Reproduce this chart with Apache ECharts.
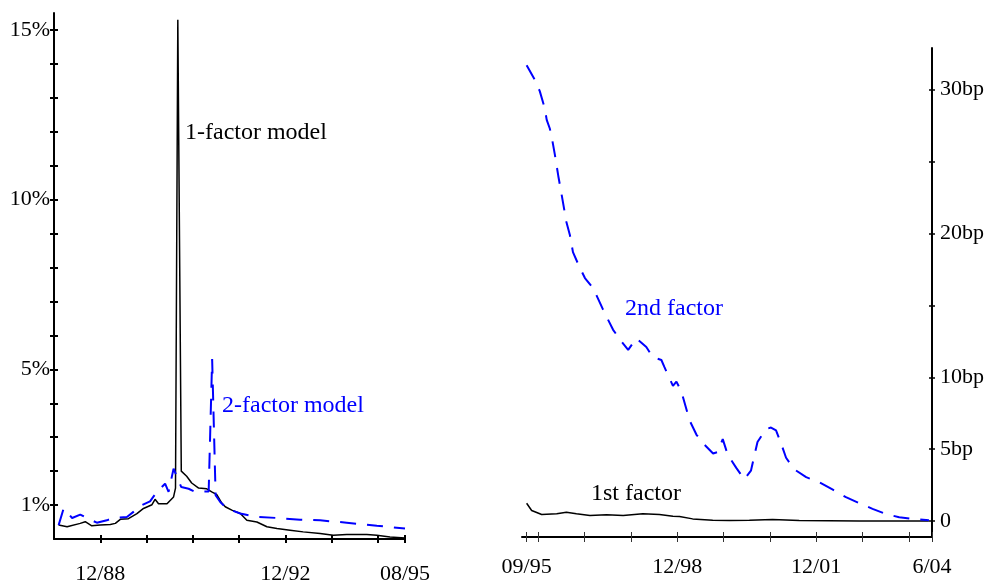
<!DOCTYPE html>
<html>
<head>
<meta charset="utf-8">
<script src="https://cdn.jsdelivr.net/npm/echarts@6/dist/echarts.min.js"></script>
<style>
  html, body { margin: 0; padding: 0; background: #ffffff; }
  #chart { width: 990px; height: 585px; }
</style>
</head>
<body>
<div id="chart"></div>
<script>
// ---- Left panel: pricing error (%) by month, month 0 = 12/87 ----
const oneFactorMonths = [1.2, 3.4, 6.8, 8.1, 9.8, 12, 14.6, 15.9, 17.2, 19.3, 21.5, 23.2, 25.4, 26.2, 27.1, 29.3, 31, 31.5, 32.1, 33.0, 34.4, 35.7, 37.5, 39.6, 40.9, 42.2, 43.5, 44.4, 46.1, 48.3, 50, 52.6, 55.2, 57.8, 61.2, 64.6, 69, 72.4, 75.9, 81.1, 83.7, 87.1, 91];
const oneFactorValues = [0.41, 0.36, 0.46, 0.51, 0.39, 0.41, 0.43, 0.46, 0.58, 0.6, 0.75, 0.9, 1.01, 1.17, 1.04, 1.04, 1.24, 1.5, 15.3, 2.0, 1.85, 1.65, 1.5, 1.48, 1.39, 1.31, 1.06, 0.95, 0.85, 0.75, 0.55, 0.5, 0.36, 0.31, 0.26, 0.21, 0.16, 0.11, 0.13, 0.13, 0.11, 0.06, 0.03];

const twoFactorMonths = [1.2, 2.5, 4.7, 6.8, 8.5, 11.1, 13.7, 15.4, 18.9, 20.6, 21.9, 24.9, 26.7, 28.8, 29.7, 31, 33, 34.9, 36.6, 40.1, 41, 41.9, 43.1, 44.8, 48.3, 52.6, 57.8, 63.8, 69, 75.9, 83.7, 91];
const twoFactorValues = [0.41, 0.9, 0.62, 0.72, 0.62, 0.48, 0.55, 0.62, 0.65, 0.8, 0.95, 1.11, 1.39, 1.63, 1.39, 2.07, 1.53, 1.48, 1.39, 1.4, 5.3, 1.29, 1.09, 0.9, 0.75, 0.65, 0.62, 0.57, 0.55, 0.48, 0.39, 0.31];

const leftTickMonths = [12, 24, 36, 48, 60, 72, 84, 91];
const leftLabelMonths = [12, 60, 91];
const leftLabelTexts = ['12/88', '12/92', '08/95'];
const leftPctTicks = [1, 2, 3, 4, 5, 6, 7, 8, 9, 10, 11, 12, 13, 14, 15];
const leftPctLabels = [1, 5, 10, 15];

// ---- Right panel: factor volatility (bp) by month, month 0 = 09/95 ----
const secondFactorMonths = [0, 2.1, 3.4, 4.7, 5.2, 6.0, 6.5, 7.3, 8.2, 9.0, 10.3, 11.2, 12.0, 13.3, 15.1, 17.2, 18.1, 19.8, 22.4, 24.5, 26.3, 28.4, 31, 32.7, 34.9, 35.7, 37.9, 38.8, 40.1, 42.2, 44, 46.1, 48.3, 49.5, 50.8, 52.1, 54.3, 56.4, 58.1, 59.8, 62, 63.3, 64.6, 65.9, 67.2, 69.3, 72.4, 75.8, 79.2, 82.7, 86.1, 89.6, 93, 96.5, 99.9, 104.2];
const secondFactorValues = [31.7, 30.7, 29.9, 28.7, 27.9, 27.3, 26.7, 25.5, 24.0, 22.8, 20.8, 19.9, 18.7, 17.9, 16.9, 16.2, 15.7, 14.7, 13.3, 12.5, 11.9, 12.7, 12.1, 11.4, 11.2, 10.7, 9.4, 9.7, 9.0, 7.0, 6.0, 5.3, 4.7, 4.8, 5.7, 4.6, 3.7, 2.9, 3.5, 5.5, 6.4, 6.5, 6.3, 5.4, 4.4, 3.6, 3.05, 2.7, 2.2, 1.66, 1.25, 0.85, 0.5, 0.26, 0.15, 0.05];

const firstFactorMonths = [0, 1.3, 3.9, 7.8, 10.3, 12.9, 16.4, 20.7, 25, 30.1, 34.4, 37.9, 39.6, 43, 48.2, 52.5, 57.7, 63.7, 70.6, 86.1, 104.2];
const firstFactorValues = [1.24, 0.73, 0.45, 0.5, 0.61, 0.5, 0.38, 0.43, 0.38, 0.5, 0.45, 0.33, 0.31, 0.15, 0.05, 0.03, 0.05, 0.1, 0.03, 0.01, 0.01];

const rightTickMonths = [0, 3, 15, 27, 39, 51, 63, 75, 87, 99, 105];
const rightLabelMonths = [0, 39, 75, 105];
const rightLabelTexts = ['09/95', '12/98', '12/01', '6/04'];
const rightBpTicks = [0, 5, 10, 15, 20, 25, 30];
const rightBpLabels = [0, 5, 10, 20, 30];

const pairs = (xs, ys) => xs.map((x, i) => [x, ys[i]]);
const FONT = 'Liberation Serif';
const BLUE = '#0000ff';
const DASH = [16, 11];

function labelFor(months, texts) {
  return v => {
    const i = months.findIndex(m => Math.abs(m - v) < 1e-6);
    return i >= 0 ? texts[i] : '';
  };
}

// Main axis (line, outer ticks, labels) + companion axis (inner ticks) gives crossing tick marks.
function axisPair(gridIndex, min, max, position, ticks, labelVals, fmt, tickStyle, margin) {
  const base = {
    type: 'value', gridIndex, min, max, position,
    splitLine: { show: false }
  };
  return [
    Object.assign({}, base, {
      axisLine: { show: true, onZero: false, lineStyle: { color: '#000', width: 2 } },
      axisTick: { show: true, inside: false, length: tickStyle.len, customValues: ticks, lineStyle: tickStyle.line },
      axisLabel: { show: true, customValues: labelVals, formatter: fmt, margin, color: '#000', fontFamily: FONT, fontSize: 22 }
    }),
    Object.assign({}, base, {
      axisLine: { show: false, onZero: false },
      axisTick: { show: true, inside: true, length: tickStyle.len, customValues: ticks, lineStyle: tickStyle.line },
      axisLabel: { show: false }
    })
  ];
}

const chart = echarts.init(document.getElementById('chart'), null, { renderer: 'canvas' });

const thickTick = { len: 4, line: { color: '#000', width: 2 } };
const thinTick = { len: 5, line: { color: '#333', width: 1 } };
const rightYTick = { len: 3, line: { color: '#000', width: 1.5 } };

const annotationFont = '24px "Liberation Serif"';

const option = {
  animation: false,
  backgroundColor: '#ffffff',
  grid: [
    { left: 54, top: 13, width: 351, height: 527.5 },
    { left: 522, top: 48, width: 410, height: 489 }
  ],
  xAxis: [
    ...axisPair(0, 0, 91, 'bottom', leftTickMonths, leftLabelMonths, labelFor(leftLabelMonths, leftLabelTexts), thickTick, 24),
    ...axisPair(1, -1.2, 105, 'bottom', rightTickMonths, rightLabelMonths, labelFor(rightLabelMonths, rightLabelTexts), thinTick, 19)
  ],
  yAxis: [
    ...axisPair(0, 0, 15.5, 'left', leftPctTicks, leftPctLabels, v => v + '%', thickTick, 4),
    ...axisPair(1, -1.11, 32.9, 'right', rightBpTicks, rightBpLabels, v => (v === 0 ? '0' : v + 'bp'), rightYTick, 8)
  ],
  series: [
    {
      name: '1-factor model', type: 'line', xAxisIndex: 0, yAxisIndex: 0,
      data: pairs(oneFactorMonths, oneFactorValues),
      showSymbol: false, symbol: 'none',
      lineStyle: { color: '#000', width: 1.5 }
    },
    {
      name: '2-factor model', type: 'line', xAxisIndex: 0, yAxisIndex: 0,
      data: pairs(twoFactorMonths, twoFactorValues),
      showSymbol: false, symbol: 'none',
      lineStyle: { color: BLUE, width: 2, type: DASH }
    },
    {
      name: '1st factor', type: 'line', xAxisIndex: 2, yAxisIndex: 2,
      data: pairs(firstFactorMonths, firstFactorValues),
      showSymbol: false, symbol: 'none',
      lineStyle: { color: '#000', width: 1.5 }
    },
    {
      name: '2nd factor', type: 'line', xAxisIndex: 2, yAxisIndex: 2,
      data: pairs(secondFactorMonths, secondFactorValues),
      showSymbol: false, symbol: 'none',
      lineStyle: { color: BLUE, width: 2, type: DASH }
    }
  ],
  graphic: [
    { type: 'text', x: 185, y: 133, style: { text: '1-factor model', fill: '#000', font: annotationFont, verticalAlign: 'middle' } },
    { type: 'text', x: 222, y: 406, style: { text: '2-factor model', fill: BLUE, font: annotationFont, verticalAlign: 'middle' } },
    { type: 'text', x: 625, y: 309, style: { text: '2nd factor', fill: BLUE, font: annotationFont, verticalAlign: 'middle' } },
    { type: 'text', x: 591, y: 494, style: { text: '1st factor', fill: '#000', font: annotationFont, verticalAlign: 'middle' } }
  ]
};

chart.setOption(option);
</script>
</body>
</html>
